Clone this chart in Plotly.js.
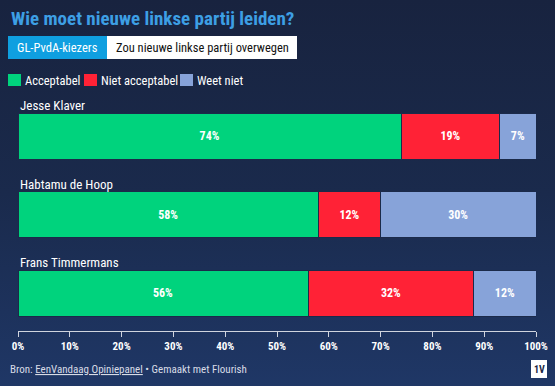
<!DOCTYPE html>
<html><head><meta charset="utf-8">
<script src="https://cdn.plot.ly/plotly-3.0.1.min.js"></script>
<style>
html,body{margin:0;padding:0;width:555px;height:386px;overflow:hidden;
background:linear-gradient(180deg,#18233f 0%,#1a2a4c 50%,#1f3766 100%);}
#chart{width:555px;height:386px;}
text, tspan{font-stretch:75% !important;}
</style></head><body><div id="chart"></div>
<script>
var categories = ["Jesse Klaver", "Habtamu de Hoop", "Frans Timmermans"];
var seriesNames = ["Acceptabel", "Niet acceptabel", "Weet niet"];
var acceptabel = [74, 58, 56];
var nietAcceptabel = [19, 12, 32];
var weetNiet = [7, 30, 12];
var seriesValues = [acceptabel, nietAcceptabel, weetNiet];
var seriesColors = ["#00d37d", "#ff2236", "#87a3d9"];
var tickVals = [0,10,20,30,40,50,60,70,80,90,100];
var tickLabels = ["0%","10%","20%","30%","40%","50%","60%","70%","80%","90%","100%"];

var W=555,H=386,L=18,R=19,T=100,B=55;
var pw=W-L-R, ph=H-T-B;
function px(x){return (x-L)/pw;}
function py(y){return (H-B-y)/ph;}
var FONT='Roboto, sans-serif';

var traces = seriesNames.map(function(n,i){
  return {type:'bar',orientation:'h',name:n,y:categories,x:seriesValues[i],
    marker:{color:seriesColors[i],line:{color:'#1b2a4a',width:1}},
    width:0.586,
    text:seriesValues[i].map(function(v){return v+'%';}),
    textposition:'inside',insidetextanchor:'middle',
    textfont:{color:'#ffffff',size:12,family:FONT,weight:'bold'},
    hoverinfo:'none',showlegend:false,cliponaxis:false};
});

var annotations=[], shapes=[];
annotations.push({xref:'paper',yref:'paper',x:px(9),y:py(18),xanchor:'left',yanchor:'middle',
  text:'<b>Wie moet nieuwe linkse partij leiden?</b>',showarrow:false,
  font:{family:FONT,size:19,color:'#3d9fe4'}});
shapes.push({type:'rect',xref:'paper',yref:'paper',x0:px(8),x1:px(107),y0:py(36),y1:py(59),fillcolor:'#0f9fe0',line:{width:0}});
shapes.push({type:'rect',xref:'paper',yref:'paper',x0:px(107),x1:px(297),y0:py(36),y1:py(59),fillcolor:'#ffffff',line:{width:0}});
annotations.push({xref:'paper',yref:'paper',x:px(57.5),y:py(47.5),xanchor:'center',yanchor:'middle',
  text:'GL-PvdA-kiezers',showarrow:false,font:{family:FONT,size:12.5,color:'#ffffff'}});
annotations.push({xref:'paper',yref:'paper',x:px(202),y:py(47.5),xanchor:'center',yanchor:'middle',
  text:'Zou nieuwe linkse partij overwegen',showarrow:false,font:{family:FONT,size:12.5,color:'#111111'}});
var legX=[8,84,180];
seriesNames.forEach(function(n,i){
  shapes.push({type:'rect',xref:'paper',yref:'paper',x0:px(legX[i]),x1:px(legX[i]+13),y0:py(74),y1:py(86),
    fillcolor:seriesColors[i],line:{width:0}});
  annotations.push({xref:'paper',yref:'paper',x:px(legX[i]+15),y:py(80),xanchor:'left',yanchor:'middle',
    text:n,showarrow:false,font:{family:FONT,size:12.5,color:'#ffffff'}});
});
categories.forEach(function(c){
  annotations.push({xref:'paper',yref:'y',x:0,y:c,xanchor:'left',yanchor:'bottom',yshift:21,
    text:c,showarrow:false,font:{family:FONT,size:13,color:'#ffffff'}});
});
annotations.push({xref:'paper',yref:'paper',x:px(8),y:py(369),xanchor:'left',yanchor:'middle',
  text:'Bron: <span style="text-decoration:underline">EenVandaag Opiniepanel</span> • Gemaakt met Flourish',
  showarrow:false,font:{family:FONT,size:11,color:'#d8dce6'}});
shapes.push({type:'rect',xref:'paper',yref:'paper',x0:px(531),x1:px(547),y0:py(360),y1:py(378),fillcolor:'#ffffff',line:{width:0}});
annotations.push({xref:'paper',yref:'paper',x:px(539),y:py(369),xanchor:'center',yanchor:'middle',
  text:'<b>1V</b>',showarrow:false,font:{family:FONT,size:10,color:'#1b2744'}});

var layout={width:W,height:H,margin:{l:L,r:R,t:T,b:B,pad:0},
  paper_bgcolor:'rgba(0,0,0,0)',plot_bgcolor:'rgba(0,0,0,0)',
  barmode:'stack',bargap:0,showlegend:false,
  xaxis:{range:[0,100],tickvals:tickVals,ticktext:tickLabels,showgrid:false,zeroline:false,
    showline:true,linecolor:'#d0d4de',linewidth:1,ticks:'outside',ticklen:5,tickcolor:'#d0d4de',
    tickfont:{family:FONT,size:11,color:'#ffffff',weight:'bold'},fixedrange:true},
  yaxis:{type:'category',range:[2.484,-0.459],showticklabels:false,showgrid:false,zeroline:false,
    showline:false,ticks:'',fixedrange:true},
  annotations:annotations,shapes:shapes,
  uniformtext:{mode:'show',minsize:8}
};
Plotly.newPlot('chart',traces,layout,{displayModeBar:false,staticPlot:true});
</script></body></html>
